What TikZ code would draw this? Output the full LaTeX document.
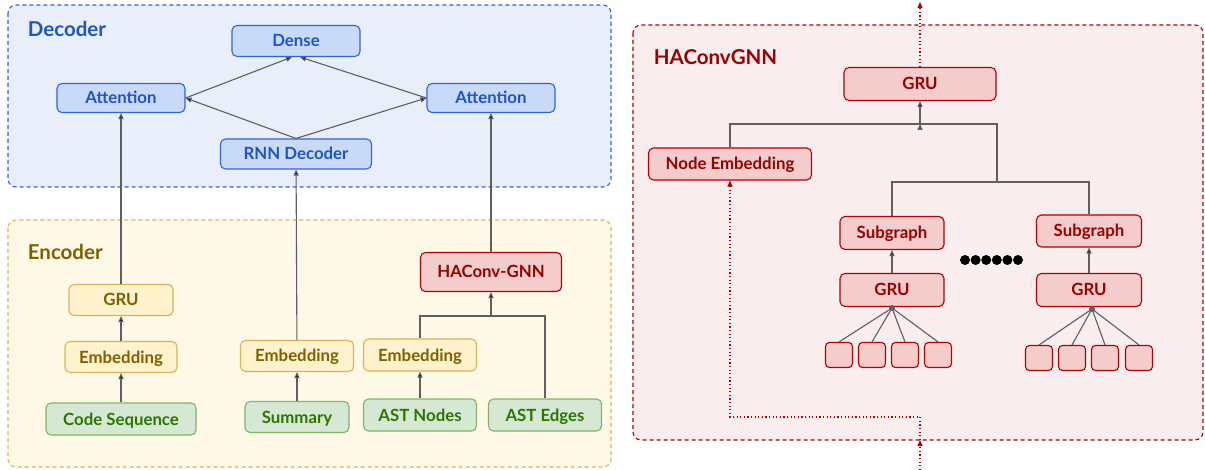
\documentclass[tikz,border=0pt]{standalone}
\usepackage{fontspec}
\setmainfont{Lato}
\usetikzlibrary{arrows.meta}

\definecolor{decline}{HTML}{2F66D6}
\definecolor{decfill}{HTML}{C9DAF8}
\definecolor{decback}{HTML}{E8EEFA}
\definecolor{dectext}{HTML}{1E56C8}
\definecolor{encline}{HTML}{D6B656}
\definecolor{encfill}{HTML}{FFF2CC}
\definecolor{encback}{HTML}{FEF8E6}
\definecolor{enctext}{HTML}{7F6000}
\definecolor{inline}{HTML}{82B366}
\definecolor{infill}{HTML}{D5E8D4}
\definecolor{intext}{HTML}{2D7600}
\definecolor{gnnline}{HTML}{B20000}
\definecolor{gnnfill}{HTML}{F4CCCC}
\definecolor{gnnback}{HTML}{F9EDED}
\definecolor{gnntext}{HTML}{990000}
\definecolor{arrowgray}{HTML}{5F5F5F}

\begin{document}
\begin{tikzpicture}[x=1pt, y=-1pt, line width=1.1pt,
    main node/.style={draw, rounded corners=5pt, inner sep=0pt, minimum height=31pt,
                      text height=12pt, text depth=0pt,
                      font=\fontsize{16.8}{19}\selectfont\bfseries},
    blue node/.style={main node, fill=decfill, draw=decline, text=dectext},
    yellow node/.style={main node, fill=encfill, draw=encline, text=enctext},
    green node/.style={main node, fill=infill, draw=inline, text=intext},
    red node/.style={main node, fill=gnnfill, draw=gnnline, text=gnntext},
    small node/.style={red node, minimum width=27pt, minimum height=25pt, rounded corners=4pt},
    group/.style={rounded corners=8pt, dash pattern=on 4pt off 3pt},
    title/.style={anchor=west, font=\fontsize{20.5}{24}\selectfont\bfseries},
    link/.style={draw=arrowgray, line width=1.1pt},
    arrow/.style={link, -{Triangle[length=6pt,width=5pt]}},
    dotted arrow/.style={draw=gnnline, line width=1.2pt, dash pattern=on 1.2pt off 2.4pt,
                         -{Triangle[length=6pt,width=5pt]}}]

	\useasboundingbox (0,0) rectangle (1205,470);

	% groups
	\draw[group, draw=decline, fill=decback] (8,5) rectangle (611,187);
	\draw[group, draw=encline, fill=encback] (8,220) rectangle (611,467);
	\draw[group, draw=gnnline, fill=gnnback] (633,25) rectangle (1203,440);

	\node[title, text=dectext] (dec) at (24,29) {Decoder};
	\node[title, text=enctext] (enc) at (24,252) {Encoder};
	\node[title, text=gnntext] (gnn) at (650,57) {HAConvGNN};

	% decoder
	\node[blue node, minimum width=128pt] (1) at (296,41) {Dense};
	\node[blue node, minimum width=128pt, minimum height=29pt] (2) at (121,98) {Attention};
	\node[blue node, minimum width=128pt, minimum height=29pt] (3) at (491,98) {Attention};
	\node[blue node, minimum width=151pt, minimum height=30pt] (4) at (296,154) {RNN Decoder};

	% encoder
	\node[yellow node, minimum width=104pt] (5) at (121,300) {GRU};
	\node[yellow node, minimum width=112pt] (6) at (121,357) {Embedding};
	\node[green node, minimum width=150pt, minimum height=32pt] (7) at (121,419) {Code Sequence};
	\node[yellow node, minimum width=113pt] (8) at (297,356) {Embedding};
	\node[green node, minimum width=104pt] (9) at (297,417) {Summary};
	\node[yellow node, minimum width=113pt, minimum height=32pt] (10) at (420,355) {Embedding};
	\node[green node, minimum width=113pt, minimum height=32pt] (11) at (420,415) {AST Nodes};
	\node[green node, minimum width=113pt, minimum height=32pt] (12) at (545,415) {AST Edges};
	\node[red node, minimum width=141pt, minimum height=39pt] (13) at (491,272) {HAConv-GNN};

	% haconvgnn
	\node[red node, minimum width=152pt, minimum height=33pt] (14) at (920,84) {GRU};
	\node[red node, minimum width=163pt, minimum height=32pt] (15) at (730,164) {Node Embedding};
	\node[red node, minimum width=104pt, minimum height=33pt] (16) at (892,233) {Subgraph};
	\node[red node, minimum width=105pt, minimum height=32pt] (17) at (1089,231) {Subgraph};
	\node[red node, minimum width=104pt, minimum height=33pt] (18) at (892,290) {GRU};
	\node[red node, minimum width=105pt, minimum height=33pt] (19) at (1089,290) {GRU};

	\node[small node] (20) at (839,355) {};
	\node[small node] (21) at (872,355) {};
	\node[small node] (22) at (905,355) {};
	\node[small node] (23) at (938,355) {};
	\node[small node] (24) at (1039,358) {};
	\node[small node] (25) at (1072,358) {};
	\node[small node] (26) at (1105,358) {};
	\node[small node] (27) at (1139,358) {};

	\foreach \i in {0,...,5}
		\fill (965+10.6*\i,260) circle (5pt);

	\coordinate (a) at (491,316);
	\coordinate (b) at (920,124);
	\coordinate (c) at (997,182);
	\coordinate (d) at (892,308);
	\coordinate (e) at (1092,309);
	\coordinate (top) at (920,2);
	\coordinate (out) at (920,470);
	\coordinate (in) at (920,440);
	\coordinate (turn) at (920,417);

  \path[arrow]
    (4.north) edge (2.east)
              edge (3.west)
    (2.east) edge ([xshift=-4pt]1.south)
    (3.west) edge ([xshift=4pt]1.south)
    (5) edge (2)
    (8) edge (4)
    (13) edge (3)
    (7) edge (6)
    (6) edge (5)
    (9) edge (8)
    (11) edge (10)
    (a) edge (13)
    (b) edge (14)
    (18) edge (16)
    (19) edge (17);

	% joins
	\draw[link] (10.north) |- (a) -| (12.north);
	\draw[link] (15.north) |- (b) -| (c);
	\draw[link] (16.north) |- (c) -| (17.north);

	\fill[arrowgray] (d) circle (3pt);
	\fill[arrowgray] (e) circle (3pt);
	\path[link]
    (d) edge (20.north) edge (21.north) edge (22.north) edge (23.north)
    (e) edge (24.north) edge (25.north) edge (26.north) edge (27.north);

	% outer flow
	\draw[dotted arrow] (14.north) -- (top);
	\draw[dotted arrow] (out) -- (in);
	\draw[dotted arrow] (in) -- (turn) -| (15.south);

\end{tikzpicture}
\end{document}
